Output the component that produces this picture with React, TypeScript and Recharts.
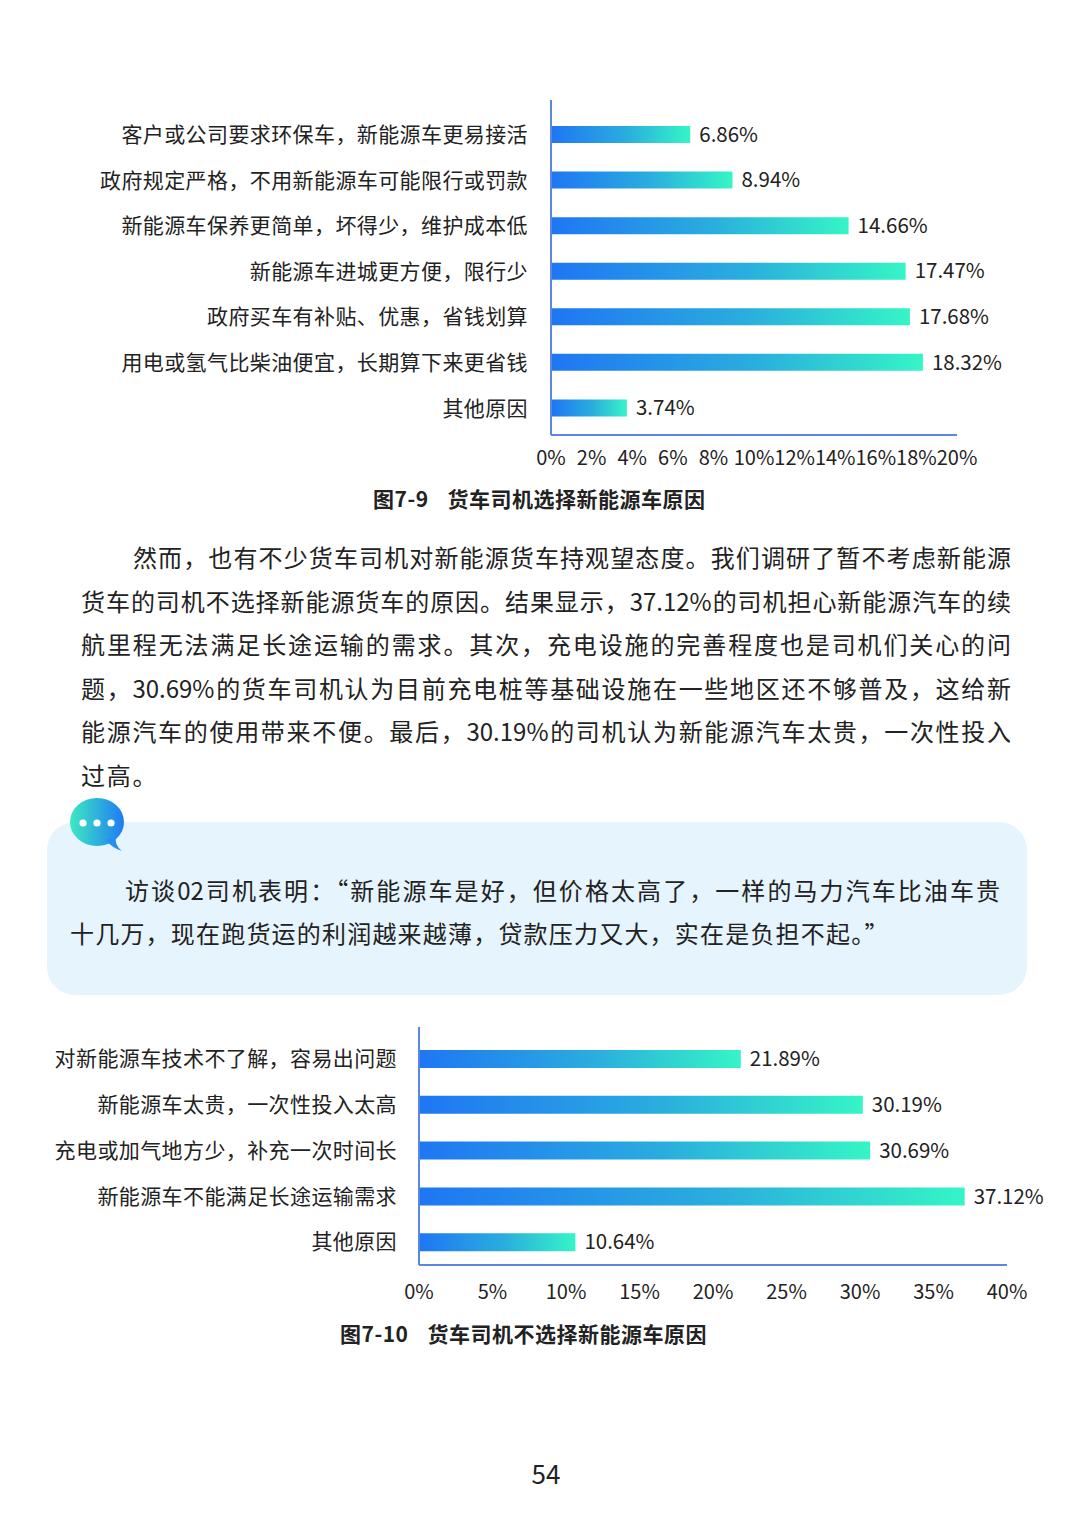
import React from "react";
import { BarChart, Bar, XAxis, YAxis, LabelList } from "recharts";

// 图7-9
const reasonsFor = [
  "客户或公司要求环保车，新能源车更易接活",
  "政府规定严格，不用新能源车可能限行或罚款",
  "新能源车保养更简单，坏得少，维护成本低",
  "新能源车进城更方便，限行少",
  "政府买车有补贴、优惠，省钱划算",
  "用电或氢气比柴油便宜，长期算下来更省钱",
  "其他原因",
];
const sharesFor = [6.86, 8.94, 14.66, 17.47, 17.68, 18.32, 3.74];
const ticksFor = [0, 2, 4, 6, 8, 10, 12, 14, 16, 18, 20];

// 图7-10
const reasonsAgainst = [
  "对新能源车技术不了解，容易出问题",
  "新能源车太贵，一次性投入太高",
  "充电或加气地方少，补充一次时间长",
  "新能源车不能满足长途运输需求",
  "其他原因",
];
const sharesAgainst = [21.89, 30.19, 30.69, 37.12, 10.64];
const ticksAgainst = [0, 5, 10, 15, 20, 25, 30, 35, 40];

const paragraphLines = [
  "然而，也有不少货车司机对新能源货车持观望态度。我们调研了暂不考虑新能源",
  "货车的司机不选择新能源货车的原因。结果显示，37.12%的司机担心新能源汽车的续",
  "航里程无法满足长途运输的需求。其次，充电设施的完善程度也是司机们关心的问",
  "题，30.69%的货车司机认为目前充电桩等基础设施在一些地区还不够普及，这给新",
  "能源汽车的使用带来不便。最后，30.19%的司机认为新能源汽车太贵，一次性投入",
  "过高。",
];
const quoteLines = [
  "访谈02司机表明：“新能源车是好，但价格太高了，一样的马力汽车比油车贵",
  "十几万，现在跑货运的利润越来越薄，贷款压力又大，实在是负担不起。”",
];

const FONT = '"Noto Sans CJK SC", "Noto Sans", sans-serif';
const TEXT = "#222";
const AXIS = "#5b87e3";

const dataFor = reasonsFor.map((label, i) => ({ label, value: sharesFor[i] }));
const dataAgainst = reasonsAgainst.map((label, i) => ({ label, value: sharesAgainst[i] }));

function CategoryTick(props: any) {
  const { x, y, payload } = props;
  return (
    <text
      x={x}
      y={y}
      dy="0.35em"
      textAnchor="end"
      fill={TEXT}
      fontSize={21}
      letterSpacing={0.4}
    >
      {payload.value}
    </text>
  );
}

function HBar({
  data,
  ticks,
  max,
  width,
  height,
  margin,
  yWidth,
  xHeight,
  padding,
  barSize,
  labelGap,
  tickGap,
  gradId,
}: any) {
  return (
    <BarChart
      layout="vertical"
      width={width}
      height={height}
      data={data}
      margin={margin}
      style={{ fontFamily: FONT }}
    >
      <defs>
        <linearGradient id={gradId} x1="0" y1="0" x2="1" y2="0">
          <stop offset="0%" stopColor="#1f76f4" />
          <stop offset="55%" stopColor="#2aaede" />
          <stop offset="100%" stopColor="#35f5c6" />
        </linearGradient>
      </defs>
      <XAxis
        type="number"
        domain={[0, max]}
        ticks={ticks}
        interval={0}
        height={xHeight}
        tickFormatter={(v: number) => `${v}%`}
        tickLine={false}
        tickSize={0}
        tickMargin={tickGap}
        axisLine={{ stroke: AXIS, strokeWidth: 2 }}
        tick={{ fill: TEXT, fontSize: 20 }}
      />
      <YAxis
        type="category"
        dataKey="label"
        width={yWidth}
        padding={padding}
        interval={0}
        tickLine={false}
        tickSize={0}
        tickMargin={labelGap}
        axisLine={{ stroke: AXIS, strokeWidth: 2 }}
        tick={<CategoryTick />}
      />
      <Bar dataKey="value" fill={`url(#${gradId})`} barSize={barSize} isAnimationActive={false}>
        <LabelList
          dataKey="value"
          position="right"
          offset={9}
          formatter={(v: any) => `${Number(v).toFixed(2)}%`}
          fill={TEXT}
          fontSize={20.5}
        />
      </Bar>
    </BarChart>
  );
}

function BubbleIcon() {
  return (
    <svg
      width={70}
      height={70}
      style={{ position: "absolute", left: 62, top: 790 }}
      viewBox="0 0 70 70"
    >
      <defs>
        <linearGradient id="bubble" x1="0" y1="0" x2="1" y2="0">
          <stop offset="0%" stopColor="#3de9c2" />
          <stop offset="100%" stopColor="#1f7bf3" />
        </linearGradient>
      </defs>
      <ellipse cx={35} cy={32} rx={27} ry={24} fill="url(#bubble)" />
      <path d="M44 50 Q50 58 60 61 Q52 55 54 46 Z" fill="#2290ec" />
      <circle cx={21} cy={33} r={3.6} fill="#fff" />
      <circle cx={35} cy={33} r={3.6} fill="#fff" />
      <circle cx={49} cy={33} r={3.6} fill="#fff" />
    </svg>
  );
}

const abs = (left: number, top: number, extra: any = {}) => ({
  position: "absolute" as const,
  left,
  top,
  ...extra,
});

const captionStyle = {
  fontSize: 21,
  fontWeight: 700,
  lineHeight: "28px",
  letterSpacing: 0.5,
  whiteSpace: "nowrap" as const,
};

export default function App() {
  return (
    <div
      style={{
        position: "absolute",
        left: 0,
        top: 0,
        width: 1080,
        height: 1527,
        background: "#fff",
        overflow: "hidden",
        fontFamily: FONT,
        color: TEXT,
      }}
    >
      <div style={abs(0, 0)}>
        <HBar
          data={dataFor}
          ticks={ticksFor}
          max={20}
          width={1080}
          height={480}
          margin={{ top: 100, right: 123, left: 0, bottom: 0 }}
          yWidth={551}
          xHeight={45}
          padding={{ top: 12, bottom: 4 }}
          barSize={17}
          labelGap={23}
          tickGap={16}
          gradId="gradFor"
        />
      </div>

      <div style={abs(373, 484, captionStyle)}>
        图7-9<span style={{ marginLeft: 19 }}>货车司机选择新能源车原因</span>
      </div>

      {paragraphLines.map((line, i) => {
        const first = i === 0;
        const last = i === paragraphLines.length - 1;
        return (
          <div
            key={i}
            style={abs(first ? 133 : 81, 535 + i * 43.6, {
              width: first ? 878 : 930,
              fontSize: 24,
              lineHeight: "44px",
              letterSpacing: last ? 1.8 : 0,
              textAlign: "justify",
              textAlignLast: last ? "left" : "justify",
              whiteSpace: "nowrap",
            })}
          >
            {line}
          </div>
        );
      })}

      <div
        style={abs(47, 822, {
          width: 980,
          height: 173,
          background: "#e6f4fd",
          borderRadius: 28,
        })}
      />
      <BubbleIcon />
      {quoteLines.map((line, i) => (
        <div
          key={i}
          style={abs(i === 0 ? 125 : 70, 868 + i * 43, {
            width: i === 0 ? 875 : 900,
            fontSize: 24,
            lineHeight: "44px",
            letterSpacing: i === 0 ? 0 : 1.2,
            textAlign: "justify",
            textAlignLast: i === 0 ? "justify" : "left",
            whiteSpace: "nowrap",
          })}
        >
          {line}
        </div>
      ))}

      <div style={abs(0, 1000)}>
        <HBar
          data={dataAgainst}
          ticks={ticksAgainst}
          max={40}
          width={1080}
          height={320}
          margin={{ top: 27, right: 73, left: 0, bottom: 0 }}
          yWidth={419}
          xHeight={55}
          padding={{ top: 9, bottom: 0 }}
          barSize={18}
          labelGap={22}
          tickGap={20}
          gradId="gradAgainst"
        />
      </div>

      <div style={abs(340, 1319, captionStyle)}>
        图7-10<span style={{ marginLeft: 19 }}>货车司机不选择新能源车原因</span>
      </div>

      <div style={abs(516, 1456, { width: 60, textAlign: "center", fontSize: 26, lineHeight: "34px" })}>
        54
      </div>
    </div>
  );
}
